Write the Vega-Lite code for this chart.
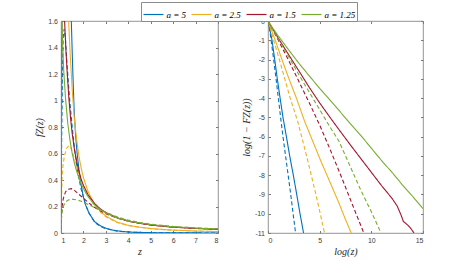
{
  "$schema": "https://vega.github.io/schema/vega-lite/v6.json",
  "padding": {"left": 34, "top": 1, "right": 2, "bottom": 2},
  "config": {
    "view": {"stroke": "#7a7a7a", "strokeWidth": 0.8},
    "axis": {"labelFont": "Liberation Sans", "labelFontSize": 7, "labelColor": "#404040", "titleFont": "Liberation Serif", "titleFontStyle": "italic", "titleFontWeight": "normal", "titleFontSize": 10, "titleColor": "#262626", "grid": false, "domain": false, "tickColor": "#7a7a7a", "tickSize": -2.5, "labelPadding": 6, "titlePadding": 3}
  },
  "datasets": {
    "L": [
      {"a": "a = 5", "k": "s", "z": 1, "f": 0}, {"a": "a = 5", "k": "s", "z": 1.02, "f": 0.8}, {"a": "a = 5", "k": "s", "z": 1.05, "f": 1.8}, {"a": "a = 5", "k": "s", "z": 1.1, "f": 2.4}, {"a": "a = 5", "k": "s", "z": 1.2, "f": 2.5}, {"a": "a = 5", "k": "s", "z": 1.3, "f": 2.15}, {"a": "a = 5", "k": "s", "z": 1.4, "f": 1.8}, {"a": "a = 5", "k": "s", "z": 1.46, "f": 1.6}, {"a": "a = 5", "k": "s", "z": 1.52, "f": 1.25}, {"a": "a = 5", "k": "s", "z": 1.58, "f": 0.95}, {"a": "a = 5", "k": "s", "z": 1.65, "f": 0.74}, {"a": "a = 5", "k": "s", "z": 1.72, "f": 0.6}, {"a": "a = 5", "k": "s", "z": 1.8, "f": 0.48}, {"a": "a = 5", "k": "s", "z": 1.9, "f": 0.36}, {"a": "a = 5", "k": "s", "z": 2.0, "f": 0.27}, {"a": "a = 5", "k": "s", "z": 2.1, "f": 0.21}, {"a": "a = 5", "k": "s", "z": 2.25, "f": 0.15}, {"a": "a = 5", "k": "s", "z": 2.5, "f": 0.085}, {"a": "a = 5", "k": "s", "z": 2.75, "f": 0.055}, {"a": "a = 5", "k": "s", "z": 3, "f": 0.036}, {"a": "a = 5", "k": "s", "z": 3.3, "f": 0.022}, {"a": "a = 5", "k": "s", "z": 3.7, "f": 0.012}, {"a": "a = 5", "k": "s", "z": 4.2, "f": 0.006}, {"a": "a = 5", "k": "s", "z": 5, "f": 0.0025}, {"a": "a = 5", "k": "s", "z": 6, "f": 0.001}, {"a": "a = 5", "k": "s", "z": 8, "f": 0.0003},
      {"a": "a = 5", "k": "d", "z": 1, "f": 0}, {"a": "a = 5", "k": "d", "z": 1.03, "f": 0.7}, {"a": "a = 5", "k": "d", "z": 1.07, "f": 1.3}, {"a": "a = 5", "k": "d", "z": 1.1, "f": 1.48}, {"a": "a = 5", "k": "d", "z": 1.14, "f": 1.54}, {"a": "a = 5", "k": "d", "z": 1.2, "f": 1.46}, {"a": "a = 5", "k": "d", "z": 1.25, "f": 1.32}, {"a": "a = 5", "k": "d", "z": 1.33, "f": 1.13}, {"a": "a = 5", "k": "d", "z": 1.4, "f": 0.98}, {"a": "a = 5", "k": "d", "z": 1.5, "f": 0.8}, {"a": "a = 5", "k": "d", "z": 1.6, "f": 0.64}, {"a": "a = 5", "k": "d", "z": 1.7, "f": 0.51}, {"a": "a = 5", "k": "d", "z": 1.8, "f": 0.41}, {"a": "a = 5", "k": "d", "z": 1.9, "f": 0.33}, {"a": "a = 5", "k": "d", "z": 2.0, "f": 0.27}, {"a": "a = 5", "k": "d", "z": 2.1, "f": 0.21}, {"a": "a = 5", "k": "d", "z": 2.25, "f": 0.15}, {"a": "a = 5", "k": "d", "z": 2.5, "f": 0.08}, {"a": "a = 5", "k": "d", "z": 2.75, "f": 0.05}, {"a": "a = 5", "k": "d", "z": 3, "f": 0.032}, {"a": "a = 5", "k": "d", "z": 3.5, "f": 0.014}, {"a": "a = 5", "k": "d", "z": 4, "f": 0.007}, {"a": "a = 5", "k": "d", "z": 5, "f": 0.002}, {"a": "a = 5", "k": "d", "z": 6, "f": 0.0008}, {"a": "a = 5", "k": "d", "z": 8, "f": 0.0002},
      {"a": "a = 2.5", "k": "s", "z": 1, "f": 0}, {"a": "a = 2.5", "k": "s", "z": 1.02, "f": 1.0}, {"a": "a = 2.5", "k": "s", "z": 1.05, "f": 2.0}, {"a": "a = 2.5", "k": "s", "z": 1.12, "f": 2.4}, {"a": "a = 2.5", "k": "s", "z": 1.2, "f": 2.2}, {"a": "a = 2.5", "k": "s", "z": 1.28, "f": 1.85}, {"a": "a = 2.5", "k": "s", "z": 1.34, "f": 1.6}, {"a": "a = 2.5", "k": "s", "z": 1.4, "f": 1.38}, {"a": "a = 2.5", "k": "s", "z": 1.5, "f": 1.08}, {"a": "a = 2.5", "k": "s", "z": 1.6, "f": 0.85}, {"a": "a = 2.5", "k": "s", "z": 1.7, "f": 0.7}, {"a": "a = 2.5", "k": "s", "z": 1.8, "f": 0.58}, {"a": "a = 2.5", "k": "s", "z": 1.9, "f": 0.49}, {"a": "a = 2.5", "k": "s", "z": 2.0, "f": 0.42}, {"a": "a = 2.5", "k": "s", "z": 2.2, "f": 0.315}, {"a": "a = 2.5", "k": "s", "z": 2.5, "f": 0.215}, {"a": "a = 2.5", "k": "s", "z": 2.75, "f": 0.165}, {"a": "a = 2.5", "k": "s", "z": 3, "f": 0.128}, {"a": "a = 2.5", "k": "s", "z": 3.5, "f": 0.082}, {"a": "a = 2.5", "k": "s", "z": 4, "f": 0.058}, {"a": "a = 2.5", "k": "s", "z": 4.5, "f": 0.044}, {"a": "a = 2.5", "k": "s", "z": 5, "f": 0.034}, {"a": "a = 2.5", "k": "s", "z": 5.5, "f": 0.027}, {"a": "a = 2.5", "k": "s", "z": 6, "f": 0.022}, {"a": "a = 2.5", "k": "s", "z": 7, "f": 0.015}, {"a": "a = 2.5", "k": "s", "z": 8, "f": 0.011},
      {"a": "a = 2.5", "k": "d", "z": 1, "f": 0}, {"a": "a = 2.5", "k": "d", "z": 1.02, "f": 0.25}, {"a": "a = 2.5", "k": "d", "z": 1.05, "f": 0.42}, {"a": "a = 2.5", "k": "d", "z": 1.09, "f": 0.51}, {"a": "a = 2.5", "k": "d", "z": 1.15, "f": 0.58}, {"a": "a = 2.5", "k": "d", "z": 1.25, "f": 0.64}, {"a": "a = 2.5", "k": "d", "z": 1.36, "f": 0.66}, {"a": "a = 2.5", "k": "d", "z": 1.45, "f": 0.64}, {"a": "a = 2.5", "k": "d", "z": 1.55, "f": 0.59}, {"a": "a = 2.5", "k": "d", "z": 1.65, "f": 0.53}, {"a": "a = 2.5", "k": "d", "z": 1.75, "f": 0.47}, {"a": "a = 2.5", "k": "d", "z": 1.9, "f": 0.4}, {"a": "a = 2.5", "k": "d", "z": 2.0, "f": 0.355}, {"a": "a = 2.5", "k": "d", "z": 2.2, "f": 0.285}, {"a": "a = 2.5", "k": "d", "z": 2.5, "f": 0.205}, {"a": "a = 2.5", "k": "d", "z": 2.75, "f": 0.158}, {"a": "a = 2.5", "k": "d", "z": 3, "f": 0.122}, {"a": "a = 2.5", "k": "d", "z": 3.5, "f": 0.079}, {"a": "a = 2.5", "k": "d", "z": 4, "f": 0.055}, {"a": "a = 2.5", "k": "d", "z": 5, "f": 0.032}, {"a": "a = 2.5", "k": "d", "z": 6, "f": 0.021}, {"a": "a = 2.5", "k": "d", "z": 7, "f": 0.014}, {"a": "a = 2.5", "k": "d", "z": 8, "f": 0.01},
      {"a": "a = 1.5", "k": "s", "z": 1, "f": 0}, {"a": "a = 1.5", "k": "s", "z": 1.01, "f": 1.0}, {"a": "a = 1.5", "k": "s", "z": 1.03, "f": 1.9}, {"a": "a = 1.5", "k": "s", "z": 1.07, "f": 1.9}, {"a": "a = 1.5", "k": "s", "z": 1.12, "f": 1.75}, {"a": "a = 1.5", "k": "s", "z": 1.16, "f": 1.6}, {"a": "a = 1.5", "k": "s", "z": 1.22, "f": 1.38}, {"a": "a = 1.5", "k": "s", "z": 1.28, "f": 1.2}, {"a": "a = 1.5", "k": "s", "z": 1.35, "f": 1.02}, {"a": "a = 1.5", "k": "s", "z": 1.43, "f": 0.86}, {"a": "a = 1.5", "k": "s", "z": 1.5, "f": 0.75}, {"a": "a = 1.5", "k": "s", "z": 1.6, "f": 0.63}, {"a": "a = 1.5", "k": "s", "z": 1.7, "f": 0.54}, {"a": "a = 1.5", "k": "s", "z": 1.8, "f": 0.465}, {"a": "a = 1.5", "k": "s", "z": 1.9, "f": 0.405}, {"a": "a = 1.5", "k": "s", "z": 2.0, "f": 0.36}, {"a": "a = 1.5", "k": "s", "z": 2.2, "f": 0.29}, {"a": "a = 1.5", "k": "s", "z": 2.5, "f": 0.222}, {"a": "a = 1.5", "k": "s", "z": 2.75, "f": 0.182}, {"a": "a = 1.5", "k": "s", "z": 3, "f": 0.155}, {"a": "a = 1.5", "k": "s", "z": 3.5, "f": 0.115}, {"a": "a = 1.5", "k": "s", "z": 4, "f": 0.09}, {"a": "a = 1.5", "k": "s", "z": 4.5, "f": 0.073}, {"a": "a = 1.5", "k": "s", "z": 5, "f": 0.06}, {"a": "a = 1.5", "k": "s", "z": 5.5, "f": 0.051}, {"a": "a = 1.5", "k": "s", "z": 6, "f": 0.044}, {"a": "a = 1.5", "k": "s", "z": 7, "f": 0.034}, {"a": "a = 1.5", "k": "s", "z": 8, "f": 0.027},
      {"a": "a = 1.5", "k": "d", "z": 1, "f": 0}, {"a": "a = 1.5", "k": "d", "z": 1.02, "f": 0.12}, {"a": "a = 1.5", "k": "d", "z": 1.05, "f": 0.2}, {"a": "a = 1.5", "k": "d", "z": 1.1, "f": 0.26}, {"a": "a = 1.5", "k": "d", "z": 1.2, "f": 0.31}, {"a": "a = 1.5", "k": "d", "z": 1.3, "f": 0.33}, {"a": "a = 1.5", "k": "d", "z": 1.46, "f": 0.335}, {"a": "a = 1.5", "k": "d", "z": 1.6, "f": 0.322}, {"a": "a = 1.5", "k": "d", "z": 1.8, "f": 0.292}, {"a": "a = 1.5", "k": "d", "z": 2.0, "f": 0.262}, {"a": "a = 1.5", "k": "d", "z": 2.25, "f": 0.225}, {"a": "a = 1.5", "k": "d", "z": 2.5, "f": 0.193}, {"a": "a = 1.5", "k": "d", "z": 2.75, "f": 0.167}, {"a": "a = 1.5", "k": "d", "z": 3, "f": 0.146}, {"a": "a = 1.5", "k": "d", "z": 3.5, "f": 0.112}, {"a": "a = 1.5", "k": "d", "z": 4, "f": 0.089}, {"a": "a = 1.5", "k": "d", "z": 4.5, "f": 0.073}, {"a": "a = 1.5", "k": "d", "z": 5, "f": 0.061}, {"a": "a = 1.5", "k": "d", "z": 6, "f": 0.045}, {"a": "a = 1.5", "k": "d", "z": 7, "f": 0.035}, {"a": "a = 1.5", "k": "d", "z": 8, "f": 0.029},
      {"a": "a = 1.25", "k": "s", "z": 1, "f": 0}, {"a": "a = 1.25", "k": "s", "z": 1.005, "f": 1.2}, {"a": "a = 1.25", "k": "s", "z": 1.015, "f": 1.75}, {"a": "a = 1.25", "k": "s", "z": 1.04, "f": 1.6}, {"a": "a = 1.25", "k": "s", "z": 1.08, "f": 1.4}, {"a": "a = 1.25", "k": "s", "z": 1.12, "f": 1.23}, {"a": "a = 1.25", "k": "s", "z": 1.2, "f": 1.02}, {"a": "a = 1.25", "k": "s", "z": 1.3, "f": 0.83}, {"a": "a = 1.25", "k": "s", "z": 1.4, "f": 0.7}, {"a": "a = 1.25", "k": "s", "z": 1.5, "f": 0.6}, {"a": "a = 1.25", "k": "s", "z": 1.6, "f": 0.525}, {"a": "a = 1.25", "k": "s", "z": 1.7, "f": 0.465}, {"a": "a = 1.25", "k": "s", "z": 1.8, "f": 0.415}, {"a": "a = 1.25", "k": "s", "z": 1.9, "f": 0.37}, {"a": "a = 1.25", "k": "s", "z": 2.0, "f": 0.335}, {"a": "a = 1.25", "k": "s", "z": 2.2, "f": 0.275}, {"a": "a = 1.25", "k": "s", "z": 2.5, "f": 0.212}, {"a": "a = 1.25", "k": "s", "z": 2.75, "f": 0.176}, {"a": "a = 1.25", "k": "s", "z": 3, "f": 0.15}, {"a": "a = 1.25", "k": "s", "z": 3.5, "f": 0.114}, {"a": "a = 1.25", "k": "s", "z": 4, "f": 0.091}, {"a": "a = 1.25", "k": "s", "z": 4.5, "f": 0.075}, {"a": "a = 1.25", "k": "s", "z": 5, "f": 0.063}, {"a": "a = 1.25", "k": "s", "z": 5.5, "f": 0.054}, {"a": "a = 1.25", "k": "s", "z": 6, "f": 0.047}, {"a": "a = 1.25", "k": "s", "z": 7, "f": 0.037}, {"a": "a = 1.25", "k": "s", "z": 8, "f": 0.03},
      {"a": "a = 1.25", "k": "d", "z": 1, "f": 0}, {"a": "a = 1.25", "k": "d", "z": 1.02, "f": 0.1}, {"a": "a = 1.25", "k": "d", "z": 1.05, "f": 0.16}, {"a": "a = 1.25", "k": "d", "z": 1.1, "f": 0.2}, {"a": "a = 1.25", "k": "d", "z": 1.2, "f": 0.235}, {"a": "a = 1.25", "k": "d", "z": 1.35, "f": 0.25}, {"a": "a = 1.25", "k": "d", "z": 1.53, "f": 0.255}, {"a": "a = 1.25", "k": "d", "z": 1.7, "f": 0.25}, {"a": "a = 1.25", "k": "d", "z": 1.9, "f": 0.24}, {"a": "a = 1.25", "k": "d", "z": 2.1, "f": 0.225}, {"a": "a = 1.25", "k": "d", "z": 2.4, "f": 0.2}, {"a": "a = 1.25", "k": "d", "z": 2.75, "f": 0.175}, {"a": "a = 1.25", "k": "d", "z": 3, "f": 0.157}, {"a": "a = 1.25", "k": "d", "z": 3.5, "f": 0.122}, {"a": "a = 1.25", "k": "d", "z": 4, "f": 0.097}, {"a": "a = 1.25", "k": "d", "z": 4.5, "f": 0.08}, {"a": "a = 1.25", "k": "d", "z": 5, "f": 0.067}, {"a": "a = 1.25", "k": "d", "z": 6, "f": 0.05}, {"a": "a = 1.25", "k": "d", "z": 7, "f": 0.039}, {"a": "a = 1.25", "k": "d", "z": 8, "f": 0.032}
    ],
    "R": [
      {"a": "a = 5", "k": "s", "x": 0, "y": 0}, {"a": "a = 5", "k": "s", "x": 0.2, "y": -0.5}, {"a": "a = 5", "k": "s", "x": 0.39, "y": -1}, {"a": "a = 5", "k": "s", "x": 0.65, "y": -2}, {"a": "a = 5", "k": "s", "x": 0.9, "y": -3}, {"a": "a = 5", "k": "s", "x": 1.17, "y": -4}, {"a": "a = 5", "k": "s", "x": 1.45, "y": -5}, {"a": "a = 5", "k": "s", "x": 1.78, "y": -6}, {"a": "a = 5", "k": "s", "x": 2.1, "y": -7}, {"a": "a = 5", "k": "s", "x": 2.45, "y": -8}, {"a": "a = 5", "k": "s", "x": 2.78, "y": -9}, {"a": "a = 5", "k": "s", "x": 3.1, "y": -10}, {"a": "a = 5", "k": "s", "x": 3.44, "y": -11},
      {"a": "a = 5", "k": "d", "x": 0, "y": 0}, {"a": "a = 5", "k": "d", "x": 0.15, "y": -0.4}, {"a": "a = 5", "k": "d", "x": 0.3, "y": -1}, {"a": "a = 5", "k": "d", "x": 0.55, "y": -2}, {"a": "a = 5", "k": "d", "x": 0.78, "y": -3}, {"a": "a = 5", "k": "d", "x": 1.0, "y": -4}, {"a": "a = 5", "k": "d", "x": 1.22, "y": -5}, {"a": "a = 5", "k": "d", "x": 1.45, "y": -6}, {"a": "a = 5", "k": "d", "x": 1.7, "y": -7}, {"a": "a = 5", "k": "d", "x": 1.95, "y": -8}, {"a": "a = 5", "k": "d", "x": 2.2, "y": -9}, {"a": "a = 5", "k": "d", "x": 2.43, "y": -10}, {"a": "a = 5", "k": "d", "x": 2.67, "y": -11},
      {"a": "a = 2.5", "k": "s", "x": 0, "y": 0}, {"a": "a = 2.5", "k": "s", "x": 0.35, "y": -0.5}, {"a": "a = 2.5", "k": "s", "x": 0.7, "y": -1}, {"a": "a = 2.5", "k": "s", "x": 1.35, "y": -2}, {"a": "a = 2.5", "k": "s", "x": 2.03, "y": -3}, {"a": "a = 2.5", "k": "s", "x": 2.75, "y": -4}, {"a": "a = 2.5", "k": "s", "x": 3.54, "y": -5.2}, {"a": "a = 2.5", "k": "s", "x": 4.3, "y": -6.2}, {"a": "a = 2.5", "k": "s", "x": 5.1, "y": -7.25}, {"a": "a = 2.5", "k": "s", "x": 5.95, "y": -8.3}, {"a": "a = 2.5", "k": "s", "x": 6.86, "y": -9.44}, {"a": "a = 2.5", "k": "s", "x": 7.5, "y": -10.3}, {"a": "a = 2.5", "k": "s", "x": 8.05, "y": -11},
      {"a": "a = 2.5", "k": "d", "x": 0, "y": 0}, {"a": "a = 2.5", "k": "d", "x": 0.3, "y": -0.5}, {"a": "a = 2.5", "k": "d", "x": 0.55, "y": -1}, {"a": "a = 2.5", "k": "d", "x": 1.1, "y": -2}, {"a": "a = 2.5", "k": "d", "x": 1.62, "y": -3}, {"a": "a = 2.5", "k": "d", "x": 2.15, "y": -4}, {"a": "a = 2.5", "k": "d", "x": 2.87, "y": -5.2}, {"a": "a = 2.5", "k": "d", "x": 3.4, "y": -6.3}, {"a": "a = 2.5", "k": "d", "x": 3.87, "y": -7.3}, {"a": "a = 2.5", "k": "d", "x": 4.3, "y": -8.25}, {"a": "a = 2.5", "k": "d", "x": 4.7, "y": -9.15}, {"a": "a = 2.5", "k": "d", "x": 5.1, "y": -10.1}, {"a": "a = 2.5", "k": "d", "x": 5.47, "y": -11},
      {"a": "a = 1.5", "k": "s", "x": 0, "y": 0}, {"a": "a = 1.5", "k": "s", "x": 0.5, "y": -0.45}, {"a": "a = 1.5", "k": "s", "x": 1, "y": -0.9}, {"a": "a = 1.5", "k": "s", "x": 2, "y": -1.75}, {"a": "a = 1.5", "k": "s", "x": 3, "y": -2.6}, {"a": "a = 1.5", "k": "s", "x": 4, "y": -3.45}, {"a": "a = 1.5", "k": "s", "x": 5, "y": -4.25}, {"a": "a = 1.5", "k": "s", "x": 6, "y": -5.0}, {"a": "a = 1.5", "k": "s", "x": 6.86, "y": -5.63}, {"a": "a = 1.5", "k": "s", "x": 8, "y": -6.45}, {"a": "a = 1.5", "k": "s", "x": 9, "y": -7.15}, {"a": "a = 1.5", "k": "s", "x": 10, "y": -7.85}, {"a": "a = 1.5", "k": "s", "x": 11, "y": -8.55}, {"a": "a = 1.5", "k": "s", "x": 12, "y": -9.2}, {"a": "a = 1.5", "k": "s", "x": 12.5, "y": -9.6}, {"a": "a = 1.5", "k": "s", "x": 12.9, "y": -10.1}, {"a": "a = 1.5", "k": "s", "x": 13.1, "y": -10.4}, {"a": "a = 1.5", "k": "s", "x": 13.5, "y": -10.58}, {"a": "a = 1.5", "k": "s", "x": 13.8, "y": -10.75}, {"a": "a = 1.5", "k": "s", "x": 14.13, "y": -11},
      {"a": "a = 1.5", "k": "d", "x": 0, "y": 0}, {"a": "a = 1.5", "k": "d", "x": 1, "y": -1.0}, {"a": "a = 1.5", "k": "d", "x": 2, "y": -2.05}, {"a": "a = 1.5", "k": "d", "x": 3, "y": -3.15}, {"a": "a = 1.5", "k": "d", "x": 4, "y": -4.25}, {"a": "a = 1.5", "k": "d", "x": 5, "y": -5.4}, {"a": "a = 1.5", "k": "d", "x": 6, "y": -6.65}, {"a": "a = 1.5", "k": "d", "x": 7, "y": -7.95}, {"a": "a = 1.5", "k": "d", "x": 8, "y": -9.3}, {"a": "a = 1.5", "k": "d", "x": 9.27, "y": -11},
      {"a": "a = 1.25", "k": "s", "x": 0, "y": 0}, {"a": "a = 1.25", "k": "s", "x": 0.5, "y": -0.4}, {"a": "a = 1.25", "k": "s", "x": 1, "y": -0.78}, {"a": "a = 1.25", "k": "s", "x": 2, "y": -1.5}, {"a": "a = 1.25", "k": "s", "x": 3, "y": -2.2}, {"a": "a = 1.25", "k": "s", "x": 4, "y": -2.85}, {"a": "a = 1.25", "k": "s", "x": 5, "y": -3.5}, {"a": "a = 1.25", "k": "s", "x": 6, "y": -4.1}, {"a": "a = 1.25", "k": "s", "x": 7, "y": -4.72}, {"a": "a = 1.25", "k": "s", "x": 8, "y": -5.35}, {"a": "a = 1.25", "k": "s", "x": 9, "y": -5.95}, {"a": "a = 1.25", "k": "s", "x": 10, "y": -6.6}, {"a": "a = 1.25", "k": "s", "x": 11, "y": -7.25}, {"a": "a = 1.25", "k": "s", "x": 12, "y": -7.85}, {"a": "a = 1.25", "k": "s", "x": 13, "y": -8.5}, {"a": "a = 1.25", "k": "s", "x": 14, "y": -9.1}, {"a": "a = 1.25", "k": "s", "x": 15, "y": -9.74},
      {"a": "a = 1.25", "k": "d", "x": 0, "y": 0}, {"a": "a = 1.25", "k": "d", "x": 0.5, "y": -0.5}, {"a": "a = 1.25", "k": "d", "x": 1, "y": -0.95}, {"a": "a = 1.25", "k": "d", "x": 2, "y": -1.85}, {"a": "a = 1.25", "k": "d", "x": 3, "y": -2.8}, {"a": "a = 1.25", "k": "d", "x": 4, "y": -3.7}, {"a": "a = 1.25", "k": "d", "x": 5, "y": -4.6}, {"a": "a = 1.25", "k": "d", "x": 6, "y": -5.5}, {"a": "a = 1.25", "k": "d", "x": 6.86, "y": -6.23}, {"a": "a = 1.25", "k": "d", "x": 8, "y": -7.6}, {"a": "a = 1.25", "k": "d", "x": 9, "y": -8.8}, {"a": "a = 1.25", "k": "d", "x": 10, "y": -9.9}, {"a": "a = 1.25", "k": "d", "x": 10.94, "y": -11}
    ]
  },
  "spacing": 21,
  "resolve": {"scale": {"color": "shared", "strokeDash": "shared", "x": "independent", "y": "independent"}},
  "hconcat": [
    {
      "width": 157, "height": 212,
      "data": {"name": "L"},
      "layer": [
        {
          "mark": {"type": "line", "clip": true, "strokeWidth": 1.1},
          "encoding": {
            "x": {"field": "z", "type": "quantitative", "scale": {"domain": [1, 8], "nice": false, "zero": false}, "axis": {"values": [1, 2, 3, 4, 5, 6, 7, 8], "title": "z"}},
            "y": {"field": "f", "type": "quantitative", "scale": {"domain": [0, 1.6], "nice": false}, "axis": {"values": [0, 0.2, 0.4, 0.6, 0.8, 1, 1.2, 1.4, 1.6], "format": "~g", "title": "fZ(z)"}},
            "color": {"field": "a", "type": "nominal", "scale": {"domain": ["a = 5", "a = 2.5", "a = 1.5", "a = 1.25"], "range": ["#0072BD", "#EDB120", "#A2142F", "#77AC30"]}, "legend": {"orient": "none", "legendX": 80, "legendY": -19, "direction": "horizontal", "columns": 4, "title": null, "symbolType": "stroke", "symbolSize": 400, "symbolStrokeWidth": 1.2, "labelFont": "Liberation Serif", "labelFontStyle": "italic", "labelFontSize": 9, "labelColor": "#000000", "labelOffset": 2, "columnPadding": 2, "padding": 1.5, "strokeColor": "#8c8c8c", "fillColor": "#ffffff"}},
            "strokeDash": {"field": "k", "type": "nominal", "scale": {"domain": ["s", "d"], "range": [[1, 0], [4, 2.5]]}, "legend": null}
          }
        },
        {
          "mark": {"type": "line", "clip": true, "opacity": 0},
          "encoding": {
            "x": {"field": "z", "type": "quantitative", "scale": {"domain": [1, 8], "nice": false, "zero": false}, "axis": {"orient": "top", "values": [1, 2, 3, 4, 5, 6, 7, 8], "labels": false, "title": null}},
            "y": {"field": "f", "type": "quantitative", "scale": {"domain": [0, 1.6], "nice": false}, "axis": {"orient": "right", "values": [0, 0.2, 0.4, 0.6, 0.8, 1, 1.2, 1.4, 1.6], "labels": false, "title": null}}
          }
        }
      ],
      "resolve": {"axis": {"x": "independent", "y": "independent"}}
    },
    {
      "width": 155, "height": 212,
      "data": {"name": "R"},
      "layer": [
        {
          "mark": {"type": "line", "clip": true, "strokeWidth": 1.1},
          "encoding": {
            "x": {"field": "x", "type": "quantitative", "scale": {"domain": [0, 15], "nice": false}, "axis": {"values": [0, 5, 10, 15], "title": "log(z)"}},
            "y": {"field": "y", "type": "quantitative", "scale": {"domain": [-11, 0], "nice": false}, "axis": {"values": [-11, -10, -9, -8, -7, -6, -5, -4, -3, -2, -1, 0], "labelExpr": "replace(datum.label, '\u2212', '-')", "title": "log(1 − FZ(z))"}},
            "color": {"field": "a", "type": "nominal", "scale": {"domain": ["a = 5", "a = 2.5", "a = 1.5", "a = 1.25"], "range": ["#0072BD", "#EDB120", "#A2142F", "#77AC30"]}, "legend": {"orient": "none", "legendX": 80, "legendY": -19, "direction": "horizontal", "columns": 4, "title": null, "symbolType": "stroke", "symbolSize": 400, "symbolStrokeWidth": 1.2, "labelFont": "Liberation Serif", "labelFontStyle": "italic", "labelFontSize": 9, "labelColor": "#000000", "labelOffset": 2, "columnPadding": 2, "padding": 1.5, "strokeColor": "#8c8c8c", "fillColor": "#ffffff"}},
            "strokeDash": {"field": "k", "type": "nominal", "scale": {"domain": ["s", "d"], "range": [[1, 0], [4, 2.5]]}, "legend": null}
          }
        },
        {
          "mark": {"type": "line", "clip": true, "opacity": 0},
          "encoding": {
            "x": {"field": "x", "type": "quantitative", "scale": {"domain": [0, 15], "nice": false}, "axis": {"orient": "top", "values": [0, 5, 10, 15], "labels": false, "title": null}},
            "y": {"field": "y", "type": "quantitative", "scale": {"domain": [-11, 0], "nice": false}, "axis": {"orient": "right", "values": [-11, -10, -9, -8, -7, -6, -5, -4, -3, -2, -1, 0], "labels": false, "title": null}}
          }
        }
      ],
      "resolve": {"axis": {"x": "independent", "y": "independent"}}
    }
  ]
}
